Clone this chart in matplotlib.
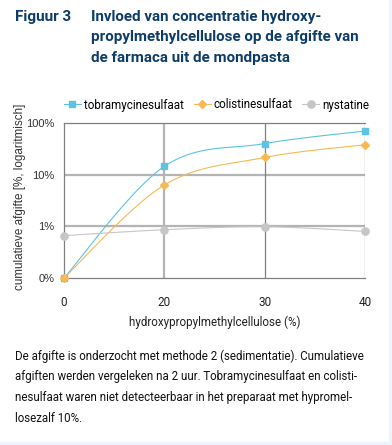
import numpy as np
import matplotlib
matplotlib.use("Agg")
import matplotlib.pyplot as plt
from matplotlib.patches import Rectangle

# data (0 = not detectable, drawn on the "0%" floor)
hpmc = ["0", "20", "30", "40"]
tobra = [0, 14.5, 40, 70]
colistine = [0, 6.3, 21.5, 38]
nystatine = [0.66, 0.86, 0.98, 0.80]
y_ticks = [0.1, 1, 10, 100]
y_ticklabels = ["0%", "1%", "10%", "100%"]
floor = 0.1

navy = "#0c3c69"
c_tobra = "#5cc3e3"
c_coli = "#f7b955"
c_nys = "#c6c6c6"


def smooth(xs, ys, n=40):
    # catmull-rom through the points in (index, log10) space, like the excel smoothed line
    px = np.asarray(xs, float)
    py = np.log10(np.maximum(ys, floor))
    P = np.column_stack([px, py])
    P = np.vstack([P[0], P, P[-1]])
    out = []
    for i in range(1, len(P) - 2):
        p0, p1, p2, p3 = P[i - 1], P[i], P[i + 1], P[i + 2]
        t = np.linspace(0, 1, n)[:, None]
        seg = 0.5 * ((2 * p1) + (-p0 + p2) * t + (2 * p0 - 5 * p1 + 4 * p2 - p3) * t ** 2
                     + (-p0 + 3 * p1 - 3 * p2 + p3) * t ** 3)
        out.append(seg if i == 1 else seg[1:])
    out = np.vstack(out)
    return out[:, 0], 10 ** out[:, 1]


fig = plt.figure(figsize=(3.92, 4.45), dpi=100)
fig.patch.set_facecolor("white")
fig.patches.append(Rectangle((389 / 392, 0), 1, 1, transform=fig.transFigure,
                             color="#eef5fa", zorder=0))
fig.patches.append(Rectangle((0, 0), 1, 3.5 / 445, transform=fig.transFigure,
                             color="#eef5fa", zorder=0))

ax = fig.add_axes([64 / 392, 1 - 278 / 445, 301 / 392, 155 / 445])
ax.set_yscale("log")
ax.set_xlim(0, 3)
ax.set_ylim(0.1, 100)

# frame and grid
for s in ["left", "bottom", "top"]:
    ax.spines[s].set_color("#808080")
    ax.spines[s].set_linewidth(0.9)
ax.spines["right"].set_visible(False)
for yv in y_ticks[1:3]:
    ax.axhline(yv, color="#b4b4b4", lw=1.6, zorder=1)
ax.axvline(1, color="#b4b4b4", lw=1.6, zorder=1)
for xv in [2, 3]:
    ax.axvline(xv, color="#808080", lw=0.9, zorder=1)

x = np.arange(len(hpmc))
series = [
    (tobra, c_tobra, "s", 5.0, "tobramycinesulfaat"),
    (colistine, c_coli, "D", 3.6, "colistinesulfaat"),
    (nystatine, c_nys, "o", 5.2, "nystatine"),
]
handles = []
for vals, col, mk, ms, lab in series:
    sx, sy = smooth(x, vals)
    ax.plot(sx, sy, color=col, lw=0.8, zorder=3, clip_on=False)
    ax.plot(x, np.maximum(vals, floor), ls="none", marker=mk, ms=ms, color=col,
            mec=col, zorder=4, clip_on=False)
    h, = ax.plot([], [], color=col, lw=0.8, marker=mk, ms=ms, label=lab)
    handles.append(h)

ax.set_xticks(x)
ax.set_xticklabels(hpmc, family="Roboto", fontsize=8.5, color="#222222")
ax.set_yticks(y_ticks)
ax.set_yticklabels(y_ticklabels, family="Liberation Sans", fontsize=8, color="#333333")
ax.minorticks_off()
ax.tick_params(length=0)
ax.tick_params(axis="x", pad=13)
ax.tick_params(axis="y", pad=7)

ax.set_xlabel("hydroxypropylmethylcellulose (%)", family="Roboto", fontsize=8.4,
              color="#222222", labelpad=5)
fig.text(20 / 392, 1 - 197 / 445, "cumulatieve afgifte [%, logaritmisch]", rotation=90,
         ha="center", va="center", family="Liberation Sans", fontsize=8.4, color="#333333")

ax.legend(handles=handles, loc="center left", bbox_to_anchor=(0.0, 1 + 18 / 155), ncol=3,
          frameon=False, handlelength=1.45, handletextpad=0.25, columnspacing=0.85,
          borderaxespad=0, borderpad=0, prop={"family": "Roboto", "size": 8.4})

# title and caption
fig.text(15 / 392, 1 - 17 / 445, "Figuur 3", family="Roboto", weight="bold", fontsize=11,
         color=navy, va="center")
title = ["Invloed van concentratie hydroxy-",
         "propylmethylcellulose op de afgifte van",
         "de farmaca uit de mondpasta"]
for i, line in enumerate(title):
    fig.text(91 / 392, 1 - (17 + 20.5 * i) / 445, line, family="Roboto", weight="bold",
             fontsize=10.9, color=navy, va="center")

body = ["De afgifte is onderzocht met methode 2 (sedimentatie). Cumulatieve",
        "afgiften werden vergeleken na 2 uur. Tobramycinesulfaat en colisti-",
        "nesulfaat waren niet detecteerbaar in het preparaat met hypromel-",
        "losezalf 10%."]
for i, line in enumerate(body):
    fig.text(15 / 392, 1 - (356 + 20.7 * i) / 445, line, family="Roboto",
             fontsize=8.3, color="#111111", va="center")

fig.savefig("out.png", dpi=100, facecolor=fig.get_facecolor())
